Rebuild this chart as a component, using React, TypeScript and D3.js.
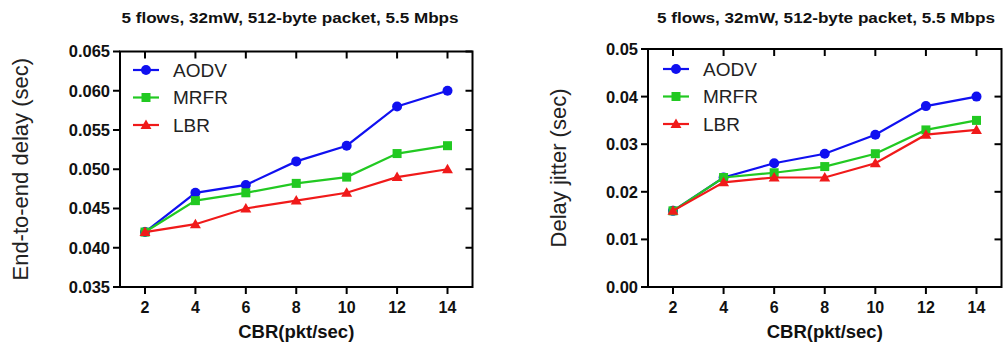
import React from "react";
import * as d3 from "d3";

const cbr = [2, 4, 6, 8, 10, 12, 14];
const seriesNames = ["AODV", "MRFR", "LBR"];
const seriesColors = ["#1010f0", "#22c922", "#f01a1a"];
const seriesShapes = ["circle", "square", "triangle"];

const delayAODV = [0.042, 0.047, 0.048, 0.051, 0.053, 0.058, 0.060];
const delayMRFR = [0.042, 0.046, 0.047, 0.0482, 0.049, 0.052, 0.053];
const delayLBR = [0.042, 0.043, 0.045, 0.046, 0.047, 0.049, 0.050];

const jitterAODV = [0.016, 0.023, 0.026, 0.028, 0.032, 0.038, 0.040];
const jitterMRFR = [0.016, 0.023, 0.024, 0.0253, 0.028, 0.033, 0.035];
const jitterLBR = [0.016, 0.022, 0.023, 0.023, 0.026, 0.032, 0.033];

const delayTicks = [0.035, 0.04, 0.045, 0.05, 0.055, 0.06, 0.065];
const jitterTicks = [0, 0.01, 0.02, 0.03, 0.04, 0.05];

const titleText = "5 flows, 32mW, 512-byte packet, 5.5 Mbps";
const xLabel = "CBR(pkt/sec)";

const FONT = "'Liberation Sans', Arial, sans-serif";

function Marker({ shape, x, y, color }: { shape: string; x: number; y: number; color: string }) {
  if (shape === "circle") return <circle cx={x} cy={y} r={5} fill={color} />;
  if (shape === "square") return <rect x={x - 4.5} y={y - 4.5} width={9} height={9} fill={color} />;
  const sym = d3.symbol().type(d3.symbolTriangle).size(52)();
  return <path d={sym || ""} transform={`translate(${x},${y + 0.8})`} fill={color} />;
}

type PanelProps = {
  left: number; right: number; top: number; bottom: number;
  domain: [number, number]; ticks: number[]; fmt: string;
  series: number[][]; yLabel: string; yLabelX: number;
  titleX: number; titleLen: number;
  legendX: number; legendY: number; legendGap: number;
};

function Panel(p: PanelProps) {
  const x = d3.scaleLinear().domain([2, 14]).range([p.left + 25, p.right - 25]);
  const y = d3.scaleLinear().domain(p.domain).range([p.bottom, p.top]);
  const fmt = d3.format(p.fmt);
  const line = d3.line<number>().x((_, i) => x(cbr[i])).y((v) => y(v));
  const tl = 7;
  return (
    <g fontFamily={FONT}>
      <text x={p.titleX} y={23} fontSize={14} fontWeight="bold" textAnchor="middle"
        textLength={p.titleLen} lengthAdjust="spacingAndGlyphs" fill="#111">{titleText}</text>
      {/* frame */}
      <rect x={p.left} y={p.top} width={p.right - p.left} height={p.bottom - p.top}
        fill="none" stroke="#000" strokeWidth={2} />
      {/* y ticks */}
      {p.ticks.map((t) => (
        <g key={"y" + t}>
          <line x1={p.left - tl} x2={p.left} y1={y(t)} y2={y(t)} stroke="#000" strokeWidth={2} />
          <line x1={p.right - tl} x2={p.right} y1={y(t)} y2={y(t)} stroke="#000" strokeWidth={2} />
          <text x={p.left - 10} y={y(t)} dy="0.36em" textAnchor="end" fontSize={16.5}
            fontWeight="bold" fill="#111">{fmt(t)}</text>
        </g>
      ))}
      {/* x ticks */}
      {cbr.map((c) => (
        <g key={"x" + c}>
          <line x1={x(c)} x2={x(c)} y1={p.bottom} y2={p.bottom + tl} stroke="#000" strokeWidth={2} />
          <line x1={x(c)} x2={x(c)} y1={p.top} y2={p.top + tl} stroke="#000" strokeWidth={2} />
          <text x={x(c)} y={313} textAnchor="middle" fontSize={16} fontWeight="bold" fill="#111">{c}</text>
        </g>
      ))}
      <text x={(p.left + p.right) / 2} y={338} textAnchor="middle" fontSize={18.5}
        fontWeight="bold" fill="#111">{xLabel}</text>
      <text transform={`translate(${p.yLabelX},${(p.top + p.bottom) / 2}) rotate(-90)`}
        textAnchor="middle" fontSize={22} fill="#222">{p.yLabel}</text>
      {/* series */}
      {p.series.map((s, si) => (
        <g key={"s" + si}>
          <path d={line(s) || ""} fill="none" stroke={seriesColors[si]} strokeWidth={2.2} />
          {s.map((v, i) => (
            <Marker key={i} shape={seriesShapes[si]} x={x(cbr[i])} y={y(v)} color={seriesColors[si]} />
          ))}
        </g>
      ))}
      {/* legend */}
      {seriesNames.map((n, i) => {
        const ly = p.legendY + i * p.legendGap;
        return (
          <g key={"l" + n}>
            <line x1={p.legendX} x2={p.legendX + 26} y1={ly} y2={ly} stroke={seriesColors[i]} strokeWidth={2.2} />
            <Marker shape={seriesShapes[i]} x={p.legendX + 13} y={ly} color={seriesColors[i]} />
            <text x={p.legendX + 40} y={ly} dy="0.36em" fontSize={19} fill="#222">{n}</text>
          </g>
        );
      })}
    </g>
  );
}

export default function App() {
  return (
    <svg width={1005} height={345} style={{ position: "absolute", left: 0, top: 0, background: "#fff" }}>
      <rect width={1005} height={345} fill="#fff" />
      <Panel left={120} right={472.5} top={51.5} bottom={287}
        domain={[0.035, 0.065]} ticks={delayTicks} fmt=".3f"
        series={[delayAODV, delayMRFR, delayLBR]}
        yLabel="End-to-end delay (sec)" yLabelX={28}
        titleX={290} titleLen={337}
        legendX={133} legendY={70} legendGap={27.5} />
      <Panel left={648} right={1001.5} top={49} bottom={287}
        domain={[0, 0.05]} ticks={jitterTicks} fmt=".2f"
        series={[jitterAODV, jitterMRFR, jitterLBR]}
        yLabel="Delay jitter (sec)" yLabelX={566}
        titleX={826} titleLen={338}
        legendX={663} legendY={69} legendGap={27.5} />
    </svg>
  );
}
